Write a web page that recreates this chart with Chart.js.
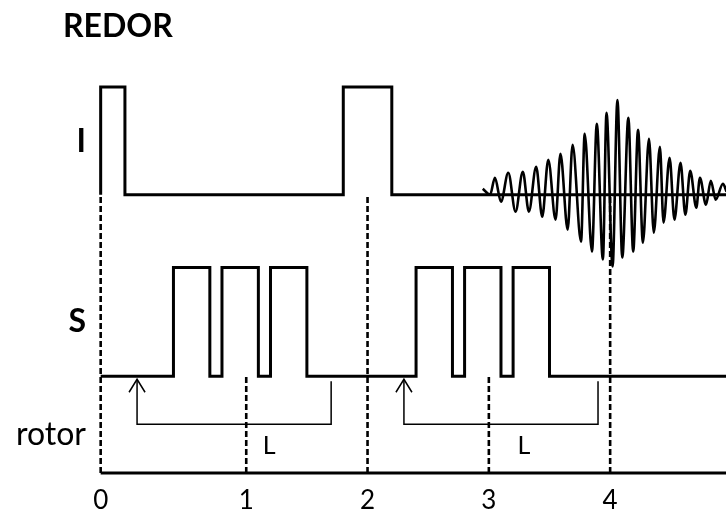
<!DOCTYPE html>
<html>
<head>
<meta charset="utf-8">
<title>REDOR</title>
<script src="https://cdn.jsdelivr.net/npm/chart.js@4.4.1/dist/chart.umd.min.js"></script>
<style>
    html, body { margin: 0; padding: 0; background: #fff; }
    canvas { display: block; }
</style>
</head>
<body>
<canvas id="redor-chart" width="726" height="514"></canvas>
<script>
// *** DATA ***
// rotor periods on the x axis (0 sits a bit further from 1 than the others)
const tickPos = [0, 1.2, 2.2, 3.2, 4.2];
const tickLabels = ['0', '1', '2', '3', '4'];

// channel names on the left
const channelNames = ['I', 'S', 'rotor'];
const channelLabelY = [332, 152, 38];

// I channel: baseline, pulse height, pulses
const iBase = 279, iTop = 387;
const iPulseStart = [0, 2.0];
const iPulseEnd = [0.2, 2.4];

// S channel: baseline, pulse height, pulses
const sBase = 97, sTop = 206;
const sPulseStart = [0.6, 1.0, 1.4, 2.6, 3.0, 3.4];
const sPulseEnd = [0.9, 1.3, 1.7, 2.9, 3.3, 3.7];

// rotor line and the dashed markers going up from it
const rotorBase = 0;
const dashTop = [279, 97, 279, 97, 279];

// "L" brackets under the S channel
const bracketStart = [0.3, 2.5];
const bracketEnd = [1.9, 4.1];
const bracketLow = 49;
const bracketTipY = 94;
const bracketEndY = 92;
const lLabelX = [1.39, 3.49];
const lLabelY = 27;

// echo on the I channel: turning points
const fidX = [3.15, 3.21, 3.25, 3.30, 3.36, 3.42, 3.48, 3.53, 3.59, 3.64, 3.69, 3.75, 3.79, 3.85, 3.89,
    3.96, 3.99, 4.05, 4.09, 4.14, 4.17, 4.22, 4.26, 4.30, 4.35, 4.39, 4.43, 4.47, 4.52, 4.56,
    4.61, 4.64, 4.69, 4.73, 4.78, 4.82, 4.86, 4.91, 4.94, 4.99, 5.03, 5.07, 5.13, 5.16];
const fidY = [285, 279, 296, 272, 301, 262, 302, 262, 307, 257, 314, 254, 320, 244, 329,
    232, 340, 222, 350, 214, 361, 207, 374, 216, 356, 222, 344, 231, 335, 241,
    327, 251, 316, 254, 311, 259, 303, 266, 296, 269, 293, 274, 290, 282];

const xMin = -0.022, xMax = 5.155;
const yMin = -5, yMax = 400;

// build a square pulse trace on a baseline
const pulseTrace = (base, top, starts, ends) => {
    const pts = [{ x: 0, y: base }];
    starts.forEach((s, i) => {
        pts.push({ x: s, y: base }, { x: s, y: top }, { x: ends[i], y: top }, { x: ends[i], y: base });
    });
    pts.push({ x: xMax, y: base });
    return pts;
};

// every line in the sketch is black
const blackLine = (data, width, extra) => Object.assign({
    data: data,
    borderColor: '#000',
    backgroundColor: '#000',
    borderWidth: width
}, extra || {});

const datasets = [];

tickPos.forEach((v, i) => {
    datasets.push(blackLine([{ x: v, y: rotorBase }, { x: v, y: dashTop[i] }], 2.6, { borderDash: [6, 3] }));
});

bracketStart.forEach((s, i) => {
    datasets.push(blackLine([
        { x: s, y: bracketTipY },
        { x: s, y: bracketLow },
        { x: bracketEnd[i], y: bracketLow },
        { x: bracketEnd[i], y: bracketEndY }
    ], 1.5, { arrow: true }));
});

datasets.push(blackLine(pulseTrace(iBase, iTop, iPulseStart, iPulseEnd), 3));
datasets.push(blackLine(pulseTrace(sBase, sTop, sPulseStart, sPulseEnd), 3));
datasets.push(blackLine([{ x: 0, y: rotorBase }, { x: xMax, y: rotorBase }], 3));
datasets.push(blackLine(fidX.map((x, i) => ({ x: x, y: fidY[i] })), 2.6, { cubicInterpolationMode: 'monotone' }));

// arrow heads, "L" labels and the title
const sketchExtras = {
    id: 'sketchExtras',
    afterDatasetsDraw(chart) {
        const { ctx, scales: { x, y } } = chart;
        ctx.save();
        ctx.strokeStyle = '#000';
        ctx.lineWidth = 1.5;
        chart.data.datasets.forEach((ds, i) => {
            if (!ds.arrow) return;
            const tip = chart.getDatasetMeta(i).data[0];
            ctx.beginPath();
            ctx.moveTo(tip.x - 8, tip.y + 13);
            ctx.lineTo(tip.x, tip.y);
            ctx.lineTo(tip.x + 8, tip.y + 13);
            ctx.stroke();
        });
        ctx.fillStyle = '#000';
        ctx.font = '25px Lato';
        ctx.textAlign = 'center';
        ctx.textBaseline = 'middle';
        lLabelX.forEach(v => ctx.fillText('L', x.getPixelForValue(v), y.getPixelForValue(lLabelY)));
        ctx.font = 'bold 32px Lato';
        ctx.textAlign = 'left';
        ctx.textBaseline = 'alphabetic';
        ctx.fillText('REDOR', 63, 37);
        ctx.restore();
    }
};

const redorChart = new Chart(document.getElementById('redor-chart'), {
    type: 'line',
    data: { datasets: datasets },
    options: {
        responsive: false,
        animation: false,
        datasets: {
            line: {
                pointRadius: 0,
                fill: false,
                tension: 0,
                borderJoinStyle: 'miter',
                borderCapStyle: 'butt'
            }
        },
        layout: { padding: { top: 74, left: 0, right: 0, bottom: -10 } },
        plugins: {
            colors: { enabled: false },
            legend: { display: false },
            tooltip: { enabled: false },
            title: { display: false }
        },
        scales: {
            x: {
                type: 'linear',
                min: xMin,
                max: xMax,
                grid: { display: false, drawTicks: false },
                border: { display: false },
                afterBuildTicks: axis => {
                    axis.ticks = tickPos.map(v => ({ value: v }));
                },
                ticks: {
                    callback: (v, i) => tickLabels[i],
                    autoSkip: false,
                    maxRotation: 0,
                    padding: 10,
                    color: '#000',
                    font: { family: 'Lato', size: 26, lineHeight: 1 }
                }
            },
            y: {
                type: 'linear',
                min: yMin,
                max: yMax,
                grid: { display: false, drawTicks: false },
                border: { display: false },
                afterBuildTicks: axis => {
                    axis.ticks = channelLabelY.map(v => ({ value: v }));
                },
                afterFit: axis => {
                    axis.width = 98;
                },
                ticks: {
                    callback: (v, i) => channelNames[i],
                    autoSkip: false,
                    padding: 12,
                    color: '#000',
                    font: ctx => channelNames[ctx.index] === 'rotor'
                        ? { family: 'Lato', size: 32 }
                        : { family: 'Lato', size: 32, weight: 'bold' }
                }
            }
        }
    },
    plugins: [sketchExtras]
});
</script>
</body>
</html>
